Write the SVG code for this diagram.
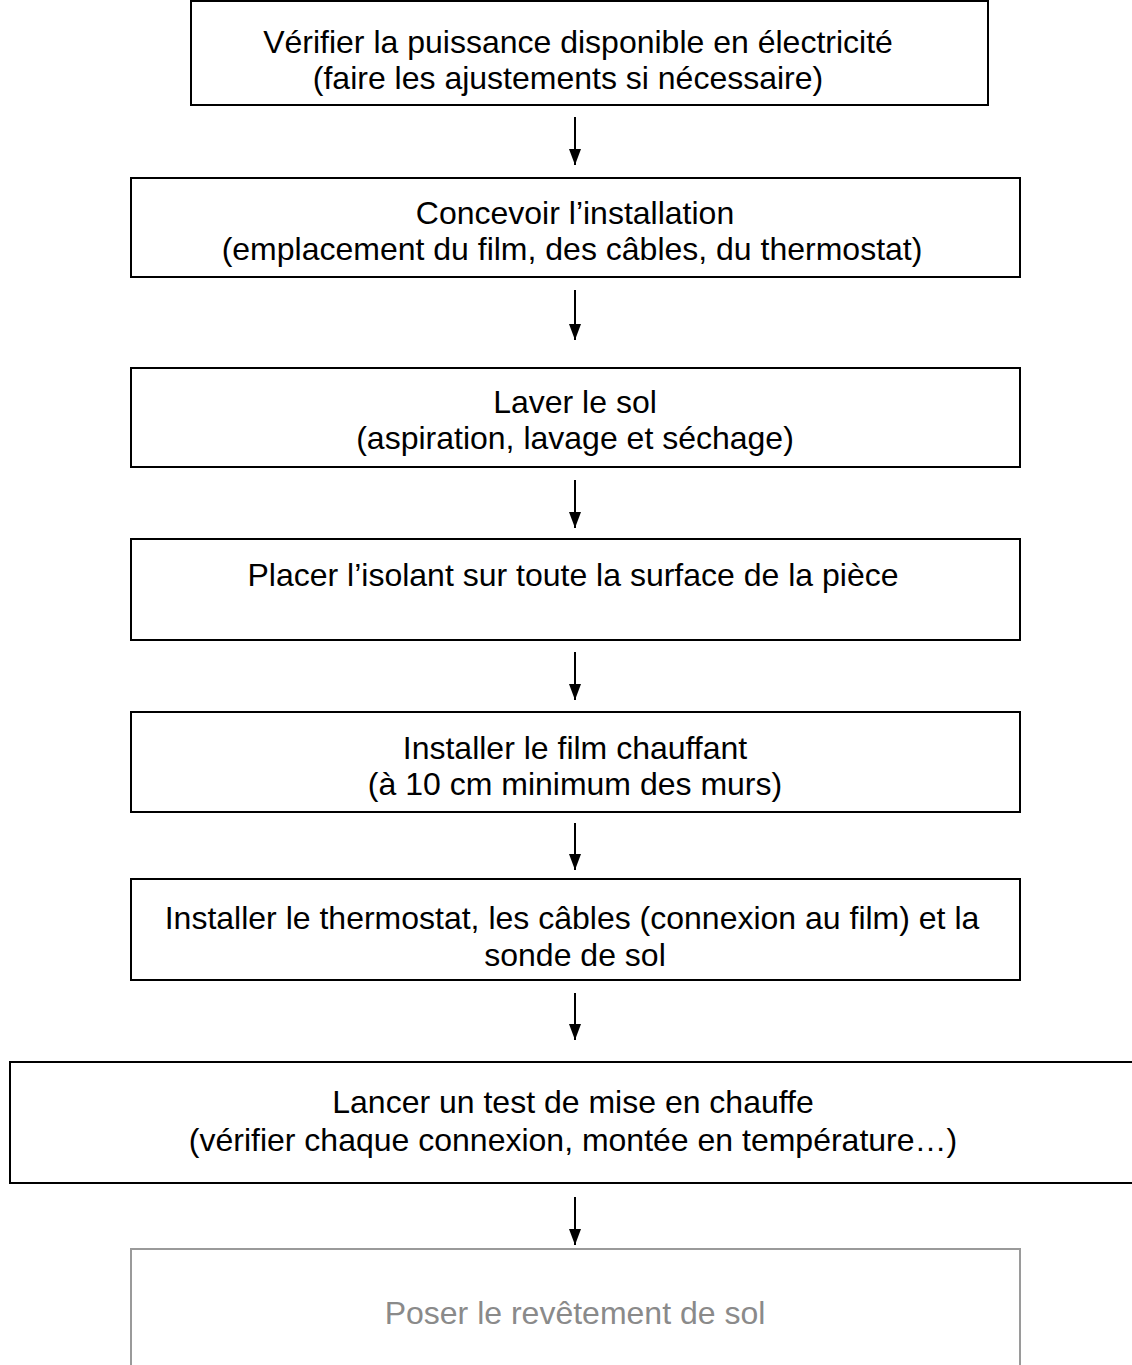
<svg xmlns="http://www.w3.org/2000/svg" width="1132" height="1365" viewBox="0 0 1132 1365">
<style>
.box{fill:#fff;stroke:#000;stroke-width:2}
.grey{fill:#fff;stroke:#9a9a9a;stroke-width:2}
.t{font-family:"Liberation Sans",Arial,sans-serif;font-size:32px;fill:#000;text-anchor:middle}
.tg{fill:#8a8a8a}
.c{stroke:#000;stroke-width:2;fill:none;marker-end:url(#ah)}
</style>
<defs>
<marker id="ah" viewBox="0 0 16 12" refX="16" refY="6" markerWidth="16" markerHeight="12" markerUnits="userSpaceOnUse" orient="auto">
<path d="M0,0 L16,6 L0,12 Z" fill="#000"/>
</marker>
</defs>
<rect width="1132" height="1365" fill="#fff"/>
<g id="n1"><rect class="box" x="191" y="1" width="797" height="104"/>
<text class="t" x="578" y="53">Vérifier la puissance disponible en électricité</text>
<text class="t" x="568" y="89">(faire les ajustements si nécessaire)</text></g>
<g id="n2"><rect class="box" x="131" y="178" width="889" height="99"/>
<text class="t" x="575" y="224">Concevoir l’installation</text>
<text class="t" x="572" y="260">(emplacement du film, des câbles, du thermostat)</text></g>
<g id="n3"><rect class="box" x="131" y="368" width="889" height="99"/>
<text class="t" x="575" y="413">Laver le sol</text>
<text class="t" x="575" y="449">(aspiration, lavage et séchage)</text></g>
<g id="n4"><rect class="box" x="131" y="539" width="889" height="101"/>
<text class="t" x="573" y="586">Placer l’isolant sur toute la surface de la pièce</text></g>
<g id="n5"><rect class="box" x="131" y="712" width="889" height="100"/>
<text class="t" x="575" y="759">Installer le film chauffant</text>
<text class="t" x="575" y="795">(à 10 cm minimum des murs)</text></g>
<g id="n6"><rect class="box" x="131" y="879" width="889" height="101"/>
<text class="t" x="572" y="929">Installer le thermostat, les câbles (connexion au film) et la</text>
<text class="t" x="575" y="966">sonde de sol</text></g>
<g id="n7"><rect class="box" x="10" y="1062" width="1130" height="121"/>
<text class="t" x="573" y="1113">Lancer un test de mise en chauffe</text>
<text class="t" x="573" y="1151">(vérifier chaque connexion, montée en température…)</text></g>
<g id="n8"><rect class="grey" x="131" y="1249" width="889" height="130"/>
<text class="t tg" x="575" y="1324">Poser le revêtement de sol</text></g>
<g id="edges">
<line class="c" x1="575" y1="117" x2="575" y2="165"/>
<line class="c" x1="575" y1="290" x2="575" y2="340"/>
<line class="c" x1="575" y1="480" x2="575" y2="528"/>
<line class="c" x1="575" y1="652" x2="575" y2="700"/>
<line class="c" x1="575" y1="823" x2="575" y2="870"/>
<line class="c" x1="575" y1="993" x2="575" y2="1040"/>
<line class="c" x1="575" y1="1197" x2="575" y2="1245"/>
</g>
</svg>
